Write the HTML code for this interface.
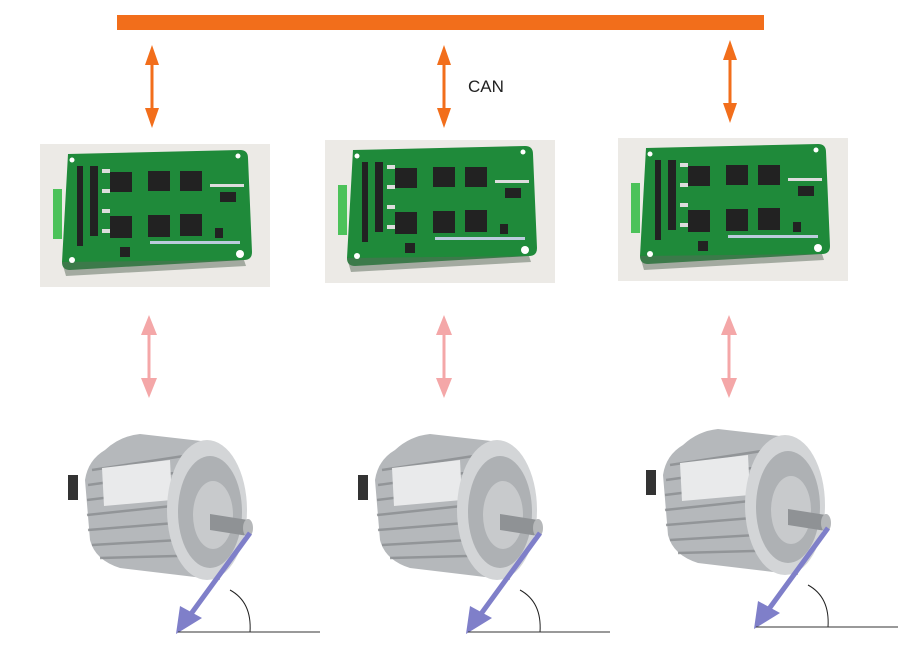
<!DOCTYPE html>
<html><head><meta charset="utf-8"><style>
html,body{margin:0;padding:0;background:#fff;width:917px;height:645px;overflow:hidden}
</style></head><body>
<svg width="917" height="645" viewBox="0 0 917 645" xmlns="http://www.w3.org/2000/svg" font-family="Liberation Sans, sans-serif">
<defs>
<g id="oarrow">
 <line x1="0" y1="12" x2="0" y2="70" stroke="#f26e1b" stroke-width="3"/>
 <polygon points="0,0 -7,20 7,20" fill="#f26e1b"/>
 <polygon points="0,83 -7,63 7,63" fill="#f26e1b"/>
</g>
<g id="parrow">
 <line x1="0" y1="12" x2="0" y2="70" stroke="#f4a7a8" stroke-width="3"/>
 <polygon points="0,0 -8,20 8,20" fill="#f4a7a8"/>
 <polygon points="0,83 -8,63 8,63" fill="#f4a7a8"/>
</g>
<g id="board">
 <rect x="0" y="0" width="230" height="143" fill="#eceae6"/>
 <path d="M28,10 L200,6 Q208,6 208,14 L212,108 Q212,116 204,116 L30,126 Q22,126 22,118 Z" fill="#1f8a3a"/>
 <path d="M22,118 L204,116 L206,122 L26,132 Z" fill="#5a6a5a" opacity="0.5"/>
 <rect x="13" y="45" width="9" height="50" fill="#4cc25a"/>
 <g fill="#222">
  <rect x="70" y="28" width="22" height="20"/><rect x="108" y="27" width="22" height="20"/><rect x="140" y="27" width="22" height="20"/>
  <rect x="70" y="72" width="22" height="22"/><rect x="108" y="71" width="22" height="22"/><rect x="140" y="70" width="22" height="22"/>
  <rect x="50" y="22" width="8" height="70"/>
  <rect x="37" y="22" width="6" height="80"/>
  <rect x="180" y="48" width="16" height="10"/>
  <rect x="175" y="84" width="8" height="10"/>
  <rect x="80" y="103" width="10" height="10"/>
 </g>
 <g fill="#ddd"><rect x="62" y="25" width="8" height="4"/><rect x="62" y="45" width="8" height="4"/><rect x="62" y="65" width="8" height="4"/><rect x="62" y="85" width="8" height="4"/>
 <rect x="170" y="40" width="34" height="3"/><rect x="110" y="97" width="90" height="3" fill="#bcd"/></g>
 <circle cx="32" cy="116" r="3" fill="#fff"/><circle cx="200" cy="110" r="4" fill="#fff"/><circle cx="32" cy="16" r="2.5" fill="#fff"/><circle cx="198" cy="12" r="2.5" fill="#fff"/>
</g>
<g id="motor">
 <path d="M25,20 Q40,6 60,4 L130,12 L140,150 L40,138 Q15,130 10,110 L5,50 Q8,30 25,20 Z" fill="#b5b8bb"/>
 <g stroke="#8a8d90" stroke-width="2.5" opacity="0.8">
  <line x1="12" y1="40" x2="130" y2="22"/><line x1="8" y1="55" x2="130" y2="38"/><line x1="7" y1="70" x2="130" y2="55"/>
  <line x1="7" y1="85" x2="130" y2="72"/><line x1="8" y1="100" x2="132" y2="90"/><line x1="12" y1="115" x2="134" y2="108"/><line x1="20" y1="128" x2="136" y2="125"/>
 </g>
 <path d="M22,38 L90,30 L92,70 L24,76 Z" fill="#e9eaeb"/>
 <ellipse cx="127" cy="80" rx="40" ry="70" fill="#d3d5d7"/>
 <ellipse cx="130" cy="82" rx="32" ry="56" fill="#aeb1b4"/>
 <ellipse cx="133" cy="85" rx="20" ry="34" fill="#c8cacc"/>
 <path d="M130,84 L168,90 Q174,98 168,106 L130,100 Z" fill="#8f9295"/>
 <ellipse cx="168" cy="98" rx="5" ry="9" fill="#b6b8ba"/>
 <rect x="-12" y="45" width="10" height="25" fill="#333"/>
 <line x1="170" y1="103" x2="108" y2="188" stroke="#7f7fc9" stroke-width="5"/>
 <polygon points="96,204 100,176 122,188" fill="#7f7fc9"/>
 <path d="M150,160 Q172,172 170,202" fill="none" stroke="#222" stroke-width="1"/>
 <line x1="98" y1="202" x2="240" y2="202" stroke="#333" stroke-width="1"/>
</g>
</defs>
<rect x="117" y="15" width="647" height="15" fill="#f26e1b"/>
<use href="#oarrow" x="152" y="45"/>
<use href="#oarrow" x="444" y="45"/>
<use href="#oarrow" x="730" y="40"/>
<text x="468" y="92" font-size="17" fill="#222">CAN</text>
<use href="#board" x="40" y="144"/>
<use href="#board" x="325" y="140"/>
<use href="#board" x="618" y="138"/>
<use href="#parrow" x="149" y="315"/>
<use href="#parrow" x="444" y="315"/>
<use href="#parrow" x="729" y="315"/>
<use href="#motor" x="80" y="430"/>
<use href="#motor" x="370" y="430"/>
<use href="#motor" x="658" y="425"/>
</svg>
</body></html>
